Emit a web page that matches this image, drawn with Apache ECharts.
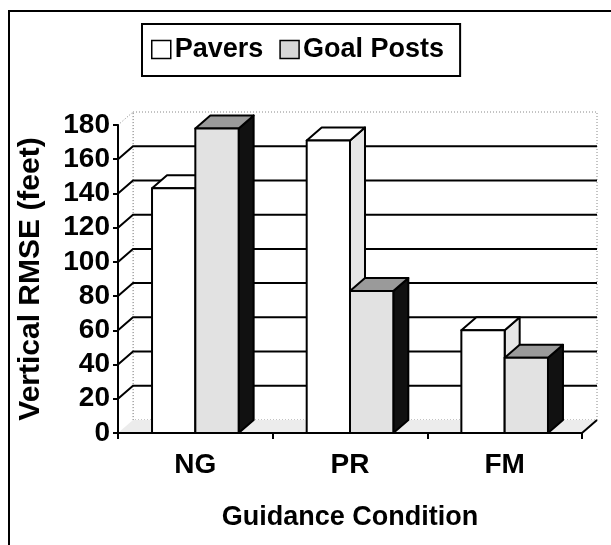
<!DOCTYPE html>
<html>
<head>
<meta charset="utf-8">
<script src="https://cdn.jsdelivr.net/npm/echarts@6/dist/echarts.min.js"></script>
<style>
  html, body { margin: 0; padding: 0; background: #fff; }
  #chart { width: 611px; height: 545px; }
</style>
</head>
<body>
<div id="chart"></div>
<script>
var categories = ['NG', 'PR', 'FM'];
var pavers = [143, 171, 60];
var goalPosts = [178, 83, 44];
var gridTicks = [20, 40, 60, 80, 100, 120, 140, 160];

// depth of the fake 3d box
var DX = 15, DY = 13;
var FONT = 'Liberation Sans, Arial, sans-serif';

var chart = echarts.init(document.getElementById('chart'));

function barItem(side) {
  return function (params, api) {
    var idx = api.value(0);
    var val = api.value(1);
    var c0 = api.coord([idx, 0]);
    var c1 = api.coord([idx, val]);
    var bw = api.size([1, 0])[0] * 0.28;
    var x0 = side === 'left' ? c0[0] - bw : c0[0];
    var y0 = c0[1], y1 = c1[1];
    var front = side === 'left' ? '#fff' : '#e2e2e2';
    var topc = side === 'left' ? '#fff' : '#9a9a9a';
    var sidec = side === 'left' ? '#e6e6e6' : '#111';
    var line = { stroke: '#000', lineWidth: 2, lineJoin: 'round' };
    return {
      type: 'group',
      children: [
        {
          type: 'polygon',
          shape: { points: [[x0 + bw, y1], [x0 + bw + DX, y1 - DY], [x0 + bw + DX, y0 - DY], [x0 + bw, y0]] },
          style: Object.assign({ fill: sidec }, line)
        },
        {
          type: 'polygon',
          shape: { points: [[x0, y1], [x0 + DX, y1 - DY], [x0 + bw + DX, y1 - DY], [x0 + bw, y1]] },
          style: Object.assign({ fill: topc }, line)
        },
        {
          type: 'rect',
          shape: { x: x0, y: y1, width: bw, height: y0 - y1 },
          style: Object.assign({ fill: front }, line)
        }
      ]
    };
  };
}

chart.setOption({
  backgroundColor: '#fff',
  animation: false,
  graphic: [{
    type: 'rect',
    shape: { x: 9, y: 11, width: 700, height: 700 },
    style: { fill: 'none', stroke: '#000', lineWidth: 2 },
    z: 10
  }],
  legend: {
    left: 142,
    top: 24,
    orient: 'horizontal',
    borderColor: '#000',
    borderWidth: 2,
    padding: [12, 16, 13, 9],
    itemWidth: 19,
    itemHeight: 18,
    itemGap: 16,
    icon: 'rect',
    textStyle: { fontFamily: FONT, fontWeight: 'bold', fontSize: 27, color: '#000', padding: [0, 0, 0, -1] },
    data: [
      { name: 'Pavers', itemStyle: { color: '#fff', borderColor: '#000', borderWidth: 1.5 } },
      { name: 'Goal Posts', itemStyle: { color: '#d8d8d8', borderColor: '#000', borderWidth: 1.5 } }
    ]
  },
  grid: { left: 118, top: 125, width: 464, height: 308 },
  xAxis: {
    type: 'category',
    data: categories,
    axisLine: { lineStyle: { color: '#000', width: 2 } },
    axisTick: { show: true, length: 6, lineStyle: { color: '#000', width: 2 } },
    axisLabel: { fontFamily: FONT, fontWeight: 'bold', fontSize: 28, color: '#000', margin: 18 },
    name: 'Guidance Condition',
    nameLocation: 'middle',
    nameGap: 71,
    nameTextStyle: { fontFamily: FONT, fontWeight: 'bold', fontSize: 27, color: '#000' }
  },
  yAxis: {
    type: 'value',
    min: 0,
    max: 180,
    interval: 20,
    axisLine: { show: true, lineStyle: { color: '#000', width: 2 } },
    axisTick: { show: true, length: 5, lineStyle: { color: '#000', width: 2 } },
    axisLabel: { fontFamily: FONT, fontWeight: 'bold', fontSize: 28, color: '#000', margin: 8 },
    splitLine: { show: false },
    name: 'Vertical RMSE (feet)',
    nameLocation: 'middle',
    nameRotate: 90,
    nameGap: 72,
    nameTextStyle: { fontFamily: FONT, fontWeight: 'bold', fontSize: 30, color: '#000' }
  },
  series: [
    {
      // walls and floor
      type: 'custom',
      z: -2,
      silent: true,
      data: [[0, 0]],
      renderItem: function (params, api) {
        var cs = params.coordSys;
        var x = cs.x, y = cs.y, w = cs.width, h = cs.height;
        var dot = { stroke: '#888', lineWidth: 1, lineDash: [1, 2], fill: null };
        return {
          type: 'group',
          children: [
            { type: 'rect', shape: { x: x + DX, y: y - DY, width: w, height: h }, style: Object.assign({}, dot, { fill: '#fff' }) },
            { type: 'polygon', shape: { points: [[x, y + h], [x, y], [x + DX, y - DY], [x + DX, y + h - DY]] }, style: { fill: '#fff' } },
            { type: 'polyline', shape: { points: [[x, y], [x + DX, y - DY], [x + DX, y + h - DY]] }, style: dot },
            { type: 'polygon', shape: { points: [[x, y + h], [x + w, y + h], [x + w + DX, y + h - DY], [x + DX, y + h - DY]] }, style: { fill: '#ececec' } },
            { type: 'line', shape: { x1: x + w, y1: y + h, x2: x + w + DX, y2: y + h - DY }, style: { stroke: '#000', lineWidth: 2 } }
          ]
        };
      }
    },
    {
      // gridlines on left and back wall
      type: 'custom',
      z: -1,
      silent: true,
      data: gridTicks.map(function (v) { return [0, v]; }),
      renderItem: function (params, api) {
        var cs = params.coordSys;
        var yy = api.coord([0, api.value(1)])[1];
        return {
          type: 'polyline',
          shape: { points: [[cs.x, yy], [cs.x + DX, yy - DY], [cs.x + cs.width + DX, yy - DY]] },
          style: { stroke: '#000', lineWidth: 2, fill: null }
        };
      }
    },
    {
      name: 'Pavers',
      type: 'custom',
      z: 3,
      data: pavers.map(function (v, i) { return [i, v]; }),
      encode: { x: 0, y: 1 },
      itemStyle: { color: '#fff' },
      renderItem: barItem('left')
    },
    {
      name: 'Goal Posts',
      type: 'custom',
      z: 4,
      data: goalPosts.map(function (v, i) { return [i, v]; }),
      encode: { x: 0, y: 1 },
      itemStyle: { color: '#d8d8d8' },
      renderItem: barItem('right')
    }
  ]
});
</script>
</body>
</html>
